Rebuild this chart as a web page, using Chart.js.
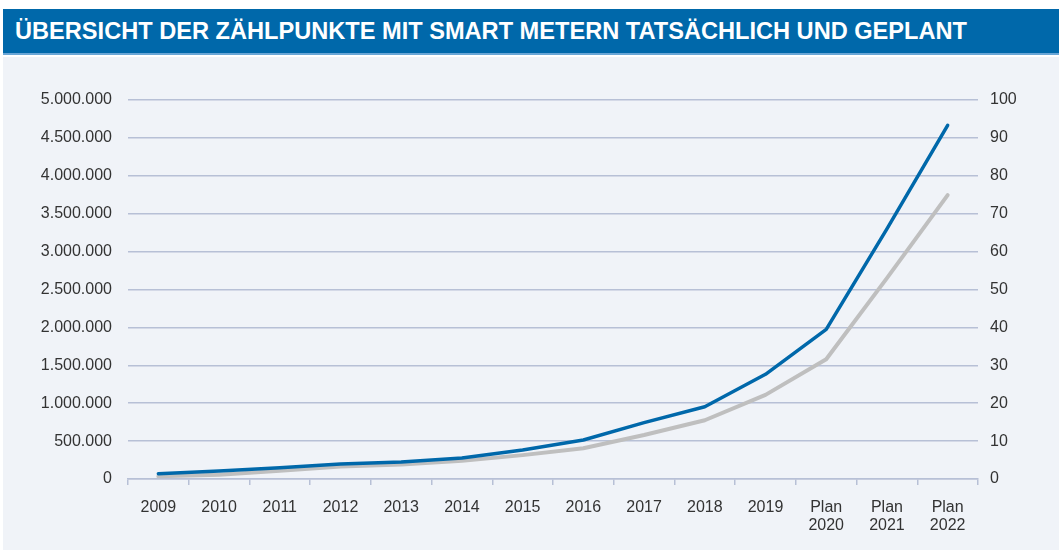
<!DOCTYPE html>
<html>
<head>
<meta charset="utf-8">
<script src="https://cdn.jsdelivr.net/npm/chart.js@4/dist/chart.umd.min.js"></script>
<style>
  html, body { margin:0; padding:0; background:#ffffff; }
  body { width:1059px; height:550px; position:relative; overflow:hidden; font-family:"Liberation Sans", Arial, sans-serif; }
  #titlebar { position:absolute; left:3px; top:9px; width:1056px; height:44px; background:#0068aa; border-bottom:2px solid #6aa6d6; }
  #title { position:absolute; left:12px; top:9px; white-space:nowrap; color:#fff; font-weight:bold; font-size:23px; line-height:26px;
           font-family:"Liberation Sans Narrow","Liberation Sans",Arial,sans-serif; transform-origin:0 0; }
  #panel { position:absolute; left:3px; top:57px; width:1056px; height:493px; background:#f0f3f8; }
  #wrap { position:absolute; left:0; top:57px; width:1059px; height:493px; }
</style>
</head>
<body>
<div id="titlebar"><span id="title">ÜBERSICHT DER ZÄHLPUNKTE MIT SMART METERN TATSÄCHLICH UND GEPLANT</span></div>
<div id="panel"></div>
<div id="wrap"><canvas id="c"></canvas></div>
<script>
const categories = ['2009','2010','2011','2012','2013','2014','2015','2016','2017','2018','2019',['Plan','2020'],['Plan','2021'],['Plan','2022']];
const smartMeterCount = [70000, 105000, 150000, 198000, 224000, 277000, 383000, 515000, 743000, 954000, 1381000, 1975000, 3300000, 4666000];
const smartMeterShare = [0.7, 1.1, 2.2, 3.3, 3.8, 4.8, 6.3, 8.1, 11.6, 15.5, 22.2, 31.6, 53.0, 74.9];
const leftTicksMax = 5000000;
const rightTicksMax = 100;

// fit title width
const t = document.getElementById('title');
const targetW = 952;
const w = t.getBoundingClientRect().width;
t.style.transform = 'scaleX(' + (targetW / w) + ')';

const gridColor = '#b7c0d6';
const textColor = '#333333';
const font = { family: '"Liberation Sans", Arial, sans-serif', size: 16, lineHeight: 1.15 };

new Chart(document.getElementById('c'), {
  type: 'line',
  data: {
    labels: categories,
    datasets: [
      { label: 'Anzahl', data: smartMeterCount, yAxisID: 'y', borderColor: '#0068aa', borderWidth: 3.5, pointRadius: 0, tension: 0, borderCapStyle: 'round', borderJoinStyle: 'round', order: 1 },
      { label: 'Anteil', data: smartMeterShare, yAxisID: 'y2', borderColor: '#bfbfbf', borderWidth: 4, pointRadius: 0, tension: 0, borderCapStyle: 'round', borderJoinStyle: 'round', order: 2 }
    ]
  },
  options: {
    responsive: true,
    maintainAspectRatio: false,
    animation: false,
    layout: { padding: { top: 43, left: 0, right: 0, bottom: 0 } },
    plugins: { legend: { display: false }, tooltip: { enabled: false } },
    scales: {
      x: {
        type: 'category',
        offset: true,
        grid: { offset: true, drawOnChartArea: false, drawTicks: true, tickLength: 6, color: gridColor, lineWidth: 1.5 },
        border: { display: true, color: gridColor, width: 1.5 },
        ticks: { color: textColor, font: font, padding: 13, maxRotation: 0, autoSkip: false },
        afterFit: s => { s.height = 71; }
      },
      y: {
        position: 'left',
        min: 0, max: leftTicksMax,
        grid: { color: gridColor, lineWidth: 1.5, drawTicks: false },
        border: { display: false },
        ticks: { stepSize: 500000, color: textColor, font: font, padding: 16,
          callback: v => v.toLocaleString('de-DE') },
        afterFit: s => { s.width = 128; }
      },
      y2: {
        position: 'right',
        min: 0, max: rightTicksMax,
        grid: { display: false, drawTicks: false },
        border: { display: false },
        ticks: { stepSize: 10, color: textColor, font: font, padding: 12 },
        afterFit: s => { s.width = 81; }
      }
    }
  }
});
</script>
</body>
</html>
